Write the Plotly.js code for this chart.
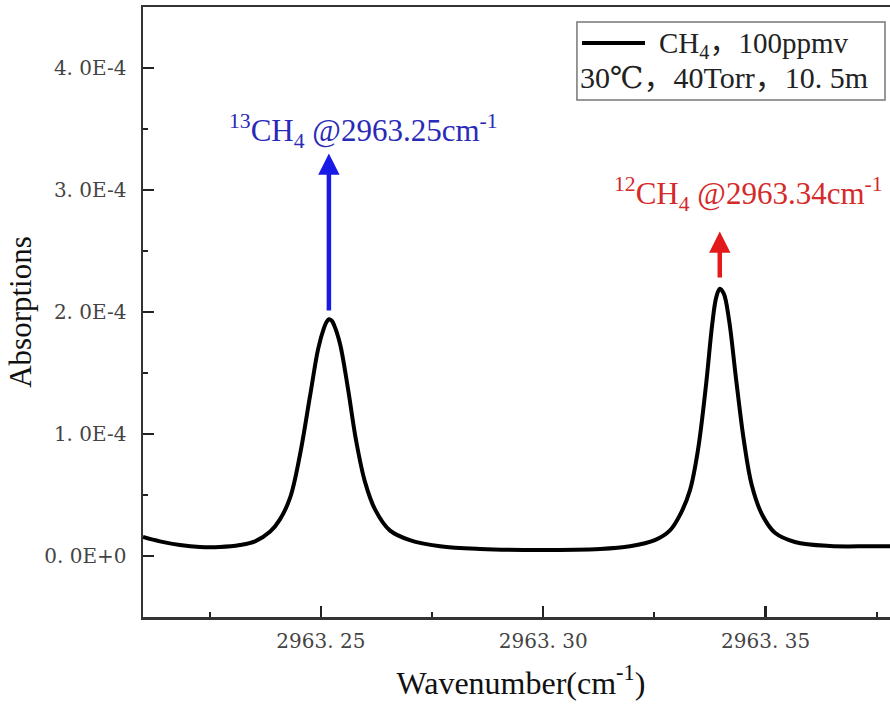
<!DOCTYPE html>
<html>
<head>
<meta charset="utf-8">
<script src="https://cdn.plot.ly/plotly-3.0.1.min.js"></script>
<style>
html, body { margin: 0; padding: 0; overflow: hidden; background: #fff; }
#chart { width: 900px; height: 705px; }
</style>
</head>
<body>
<div id="chart"></div>
<script>
// Wavenumber (cm-1)
const wavenumber = [
  2963.2100, 2963.2138, 2963.2183, 2963.2228, 2963.2273, 2963.2318, 2963.2352,
  2963.2386, 2963.2408, 2963.2431, 2963.2453, 2963.2476, 2963.2494, 2963.2507,
  2963.2513, 2963.2518, 2963.2524, 2963.2530, 2963.2543, 2963.2561, 2963.2579,
  2963.2599, 2963.2622, 2963.2655, 2963.2700, 2963.2768, 2963.2858, 2963.2993,
  2963.3128, 2963.3195, 2963.3251, 2963.3285, 2963.3308, 2963.3330, 2963.3348,
  2963.3366, 2963.3380, 2963.3389, 2963.3397, 2963.3406, 2963.3418, 2963.3433,
  2963.3451, 2963.3469, 2963.3492, 2963.3521, 2963.3566, 2963.3645, 2963.3735,
  2963.3800
];
// Absorption values
const absorption = [
  1.56e-5, 1.20e-5, 0.90e-5, 0.74e-5, 0.74e-5, 0.90e-5, 1.20e-5,
  2.00e-5, 3.00e-5, 4.80e-5, 8.30e-5, 1.32e-4, 1.70e-4, 1.87e-4,
  1.92e-4, 1.94e-4, 1.93e-4, 1.89e-4, 1.74e-4, 1.37e-4, 0.95e-4,
  0.61e-4, 0.38e-4, 2.10e-5, 1.30e-5, 0.80e-5, 0.58e-5, 0.50e-5,
  0.58e-5, 0.80e-5, 1.30e-5, 2.10e-5, 3.40e-5, 5.40e-5, 0.87e-4,
  1.40e-4, 1.90e-4, 2.12e-4, 2.19e-4, 2.15e-4, 1.93e-4, 1.47e-4,
  0.95e-4, 0.58e-4, 3.40e-5, 1.90e-5, 1.15e-5, 0.82e-5, 0.80e-5,
  0.80e-5
];

const xTickVals = [2963.25, 2963.30, 2963.35];
const xTickText = ["2963. 25", "2963. 30", "2963. 35"];
const xMinorVals = [2963.225, 2963.275, 2963.325, 2963.375];
const yTickVals = [0, 1e-4, 2e-4, 3e-4, 4e-4];
const yTickText = ["0. 0E+0", "1. 0E-4", "2. 0E-4", "3. 0E-4", "4. 0E-4"];
const yMinorVals = [0.5e-4, 1.5e-4, 2.5e-4, 3.5e-4];

// Peak labels
const peakNames = ["<sup>13</sup>CH<sub>4</sub> @2963.25cm<sup>-1</sup>",
                   "<sup>12</sup>CH<sub>4</sub> @2963.34cm<sup>-1</sup>"];
const peakX = [2963.2518, 2963.3397];
const arrowTail = [2.0e-4, 2.27e-4];
const arrowTip = [3.30e-4, 2.66e-4];
const labelX = [2963.2288, 2963.3155];
const labelY = [3.48e-4, 2.97e-4];
const peakColors = ["#1a1ae6", "#e31a1a"];
const textColors = ["#2a2ab8", "#d42a2a"];

const serif = "'Liberation Serif', 'Times New Roman', serif";
const tickFont = {family: "'DejaVu Serif', serif", size: 20, color: "#444"};

const trace = {
  x: wavenumber, y: absorption, type: "scatter", mode: "lines",
  name: "CH4, 100ppmv",
  line: {color: "#000", width: 4, shape: "spline", smoothing: 1},
  hoverinfo: "skip", showlegend: false
};

const annotations = [];
for (let i = 0; i < peakX.length; i++) {
  annotations.push({
    x: peakX[i], y: arrowTip[i], ax: peakX[i], ay: arrowTail[i],
    xref: "x", yref: "y", axref: "x", ayref: "y",
    text: "", showarrow: true, arrowhead: 2, arrowsize: 0.95,
    arrowwidth: 4.5, arrowcolor: peakColors[i], standoff: 0, startstandoff: 0
  });
  annotations.push({
    x: labelX[i], y: labelY[i], xref: "x", yref: "y",
    xanchor: "left", yanchor: "middle", showarrow: false,
    text: peakNames[i],
    font: {family: serif, size: 31, color: textColors[i]}
  });
}
// Legend-like box content
annotations.push({
  x: 0.680, y: 0.9377, xref: "paper", yref: "paper", xanchor: "left", yanchor: "middle",
  showarrow: false, text: "CH<sub>4</sub>，100ppmv",
  font: {family: serif + ", 'Noto Sans CJK SC'", size: 29, color: "#222"}
});
annotations.push({
  x: 0.576, y: 0.885, xref: "paper", yref: "paper", xanchor: "left", yanchor: "middle",
  showarrow: false, text: "30℃，40Torr，10. 5m",
  font: {family: serif + ", 'DejaVu Serif', 'Noto Sans CJK SC'", size: 30, color: "#222"}
});

const layout = {
  width: 900, height: 705,
  margin: {l: 143, r: 1, t: 7, b: 88},
  paper_bgcolor: "#fff", plot_bgcolor: "#fff",
  showlegend: false,
  xaxis: {
    range: [2963.21, 2963.38],
    tickmode: "array", tickvals: xTickVals, ticktext: xTickText,
    ticks: "inside", ticklen: 11, tickwidth: 2.5, tickcolor: "#222",
    ticklabelstandoff: 4,
    minor: {tickmode: "array", tickvals: xMinorVals, ticks: "inside", ticklen: 5, tickwidth: 2, tickcolor: "#222"},
    showline: true, linewidth: 2.5, linecolor: "#333", mirror: true,
    showgrid: false, zeroline: false,
    tickfont: tickFont,
    title: {text: "Wavenumber(cm<sup>-1</sup>)", font: {family: serif, size: 32, color: "#111"}, standoff: 20}
  },
  yaxis: {
    range: [-0.5e-4, 4.5e-4],
    tickmode: "array", tickvals: yTickVals, ticktext: yTickText,
    ticks: "inside", ticklen: 11, tickwidth: 2.5, tickcolor: "#222",
    ticklabelstandoff: 10,
    minor: {tickmode: "array", tickvals: yMinorVals, ticks: "inside", ticklen: 5, tickwidth: 2, tickcolor: "#222"},
    showline: true, linewidth: 2.5, linecolor: "#333", mirror: true,
    showgrid: false, zeroline: false,
    tickfont: tickFont,
    title: {text: "Absorptions", font: {family: serif, size: 31, color: "#111"}, standoff: 4}
  },
  shapes: [
    {type: "rect", xref: "paper", yref: "paper", x0: 0.574, x1: 0.9815, y0: 0.8475, y1: 0.9754,
     line: {color: "#777", width: 1.5}, fillcolor: "rgba(0,0,0,0)"},
    {type: "line", xref: "paper", yref: "paper", x0: 0.5807, x1: 0.664, y0: 0.941, y1: 0.941,
     line: {color: "#000", width: 4}}
  ],
  annotations: annotations
};

Plotly.newPlot("chart", [trace], layout, {displayModeBar: false, staticPlot: true});
</script>
</body>
</html>
